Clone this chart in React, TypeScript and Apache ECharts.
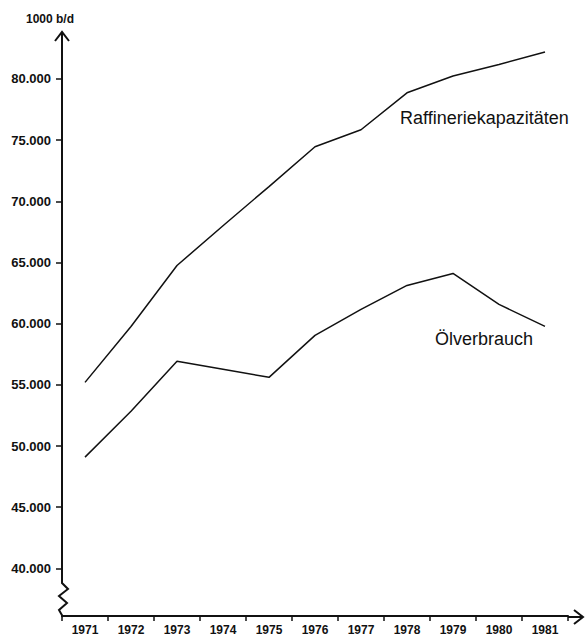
import React, { useEffect, useRef } from "react";
import * as echarts from "echarts";

const years = ["1971", "1972", "1973", "1974", "1975", "1976", "1977", "1978", "1979", "1980", "1981"];
const raffinerie = [55200, 59770, 64750, 68000, 71200, 74450, 75840, 78860, 80240, 81180, 82200];
const oelverbrauch = [49090, 52840, 56920, 56270, 55610, 59040, 61160, 63120, 64100, 61570, 59770];
const yTicks = [40000, 45000, 50000, 55000, 60000, 65000, 70000, 75000, 80000];
const yMin = 36110;
const yMax = 83830;

const W = 585;
const H = 636;
const G = { left: 62, right: 17, top: 32, bottom: 19 };
const INK = "#111";

export default function App() {
  const ref = useRef<HTMLDivElement>(null);
  useEffect(() => {
    document.body.style.margin = "0";
    const chart = echarts.init(ref.current!, null, { renderer: "svg" });
    const gx0 = G.left;
    const gx1 = W - G.right;
    const gy0 = G.top;
    const gy1 = H - G.bottom;
    chart.setOption({
      animation: false,
      backgroundColor: "#fff",
      grid: { left: G.left, right: G.right, top: G.top, bottom: G.bottom, containLabel: false },
      xAxis: {
        type: "category",
        data: years,
        boundaryGap: true,
        axisLine: { show: true, lineStyle: { color: INK, width: 2 } },
        axisTick: { show: true, interval: 0, length: 5, lineStyle: { color: INK, width: 1.5 } },
        axisLabel: {
          interval: 0,
          margin: 8,
          color: INK,
          fontFamily: "Liberation Sans",
          fontWeight: "bold",
          fontSize: 12,
        },
        splitLine: { show: false },
      },
      yAxis: {
        type: "value",
        min: yMin,
        max: yMax,
        axisLine: { show: false },
        axisTick: {
          show: true,
          length: 6,
          customValues: yTicks,
          lineStyle: { color: INK, width: 1.5 },
        },
        axisLabel: {
          customValues: yTicks,
          margin: 11,
          color: INK,
          fontFamily: "Liberation Sans",
          fontWeight: "bold",
          fontSize: 13,
          formatter: (v: number) => `${Math.round(v / 1000)}.000`,
        },
        splitLine: { show: false },
      },
      series: [
        {
          name: "Raffineriekapazitäten",
          type: "line",
          data: raffinerie,
          symbol: "none",
          silent: true,
          lineStyle: { color: INK, width: 1.5 },
        },
        {
          name: "Ölverbrauch",
          type: "line",
          data: oelverbrauch,
          symbol: "none",
          silent: true,
          lineStyle: { color: INK, width: 1.5 },
        },
      ],
      graphic: [
        {
          type: "polyline",
          silent: true,
          shape: {
            points: [
              [gx0, gy0],
              [gx0, gy1 - 34],
              [gx0 + 6, gy1 - 28],
              [gx0 - 3, gy1 - 21],
              [gx0 + 5, gy1 - 14],
              [gx0 - 3, gy1 - 7],
              [gx0 + 1, gy1],
            ],
          },
          style: { stroke: INK, lineWidth: 2, fill: "none" },
        },
        {
          type: "polyline",
          silent: true,
          shape: { points: [[gx0 - 7, gy0 + 9], [gx0, gy0], [gx0 + 7, gy0 + 9]] },
          style: { stroke: INK, lineWidth: 2, fill: "none" },
        },
        {
          type: "line",
          silent: true,
          shape: { x1: gx1, y1: gy1, x2: gx1 + 15, y2: gy1 },
          style: { stroke: INK, lineWidth: 2 },
        },
        {
          type: "polyline",
          silent: true,
          shape: { points: [[gx1 + 6, gy1 - 7], [gx1 + 15, gy1], [gx1 + 6, gy1 + 7]] },
          style: { stroke: INK, lineWidth: 2, fill: "none" },
        },
        {
          type: "text",
          silent: true,
          x: 50,
          y: 19,
          style: {
            text: "1000 b/d",
            fill: INK,
            fontFamily: "Liberation Sans",
            fontWeight: "bold",
            fontSize: 12,
            align: "center",
            verticalAlign: "middle",
          },
        },
        {
          type: "text",
          silent: true,
          x: 400,
          y: 118,
          style: {
            text: "Raffineriekapazitäten",
            fill: INK,
            fontFamily: "Liberation Sans",
            fontSize: 18,
            align: "left",
            verticalAlign: "middle",
          },
        },
        {
          type: "text",
          silent: true,
          x: 435,
          y: 339,
          style: {
            text: "Ölverbrauch",
            fill: INK,
            fontFamily: "Liberation Sans",
            fontSize: 18,
            align: "left",
            verticalAlign: "middle",
          },
        },
      ],
    });
    return () => chart.dispose();
  }, []);
  return <div ref={ref} style={{ width: W, height: H }} />;
}
